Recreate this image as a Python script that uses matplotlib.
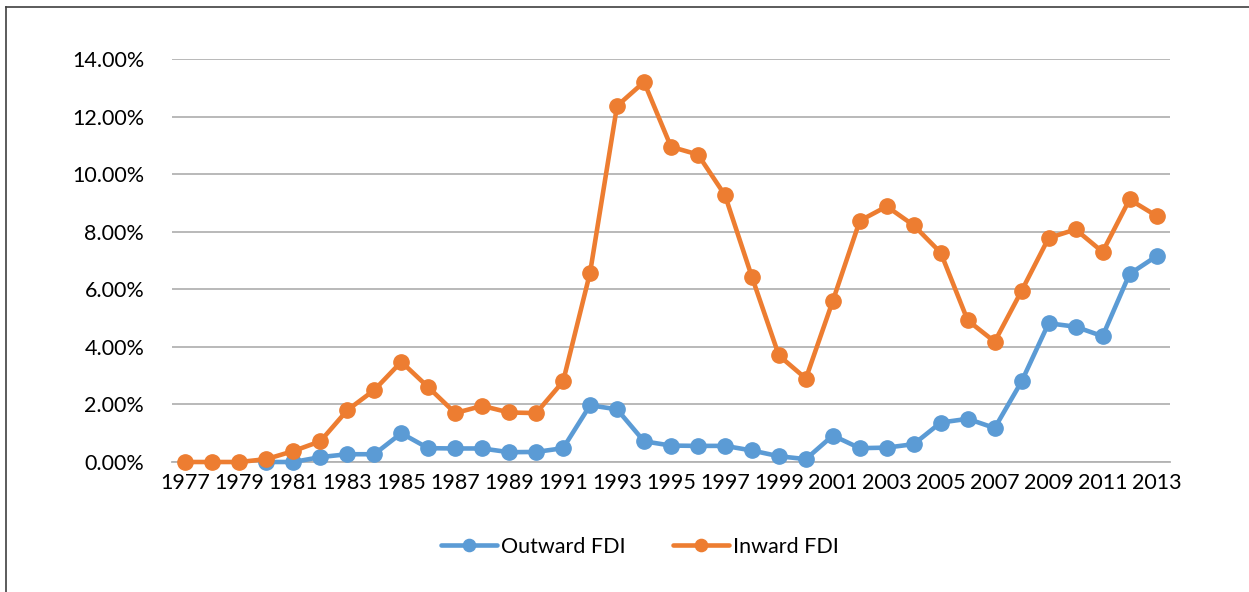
import matplotlib.pyplot as plt
from matplotlib.lines import Line2D
from matplotlib.ticker import FuncFormatter

plt.rcParams['font.family'] = ['Lato', 'DejaVu Sans']

years = list(range(1977, 2014))

# Outward FDI starts in 1980 (no data before)
outward_years = list(range(1980, 2014))
outward = [0.00, 0.00, 0.17, 0.27, 0.27, 1.00, 0.48, 0.47, 0.47, 0.34,
           0.35, 0.48, 1.97, 1.83, 0.72, 0.57, 0.56, 0.56, 0.40, 0.20,
           0.10, 0.92, 0.48, 0.50, 0.62, 1.37, 1.50, 1.18, 2.80, 4.82,
           4.70, 4.37, 6.53, 7.15]

inward = [0.00, 0.00, 0.00, 0.10, 0.38, 0.72, 1.80, 2.50, 3.48, 2.60,
          1.70, 1.95, 1.72, 1.70, 2.80, 6.58, 12.37, 13.20, 10.95, 10.68,
          9.27, 6.43, 3.70, 2.90, 5.60, 8.38, 8.88, 8.22, 7.27, 4.92,
          4.18, 5.95, 7.78, 8.08, 7.30, 9.12, 8.55]

blue = '#5B9BD5'
orange = '#ED7D31'

fig = plt.figure(figsize=(12.49, 5.92), dpi=100)
ax = fig.add_axes([172 / 1249, 1 - 462 / 592, (1170 - 172) / 1249, (462 - 59) / 592])

ax.plot(outward_years, outward, color=blue, linewidth=3.3, marker='o', markersize=11,
        label='Outward FDI', solid_capstyle='round', zorder=3, clip_on=False)
ax.plot(years, inward, color=orange, linewidth=3.3, marker='o', markersize=11,
        label='Inward FDI', solid_capstyle='round', zorder=4, clip_on=False)

ax.set_xlim(1976.5, 2013.5)
ax.set_ylim(0, 14)
ax.set_yticks([0, 2, 4, 6, 8, 10, 12, 14])
ax.yaxis.set_major_formatter(FuncFormatter(lambda v, p: f'{v:.2f}%'))
ax.set_xticks(years[::2])
ax.tick_params(axis='both', length=0, labelsize=15.5, colors='#000000')
ax.tick_params(axis='y', pad=20)
ax.tick_params(axis='x', pad=8)
ax.grid(axis='y', color='#b3b3b3', linewidth=1.3)
ax.set_axisbelow(True)
for s in ['top', 'right', 'left']:
    ax.spines[s].set_visible(False)
ax.spines['bottom'].set_color('#b3b3b3')
ax.spines['bottom'].set_linewidth(1.3)

ax.legend(loc='center', bbox_to_anchor=(640 / 1249, 1 - 547 / 592),
          bbox_transform=fig.transFigure, ncol=2, frameon=False, fontsize=15.5,
          handlelength=2.6, columnspacing=2.2, handletextpad=0.2, markerscale=0.8)

# outer chart border (left and top visible in the crop)
fig.add_artist(Line2D([6 / 1249, 6 / 1249], [0, 1 - 7 / 592], transform=fig.transFigure,
                      color='#404040', linewidth=1.2))
fig.add_artist(Line2D([6 / 1249, 1], [1 - 7 / 592, 1 - 7 / 592], transform=fig.transFigure,
                      color='#404040', linewidth=1.2))

fig.savefig('out.png', dpi=100)
